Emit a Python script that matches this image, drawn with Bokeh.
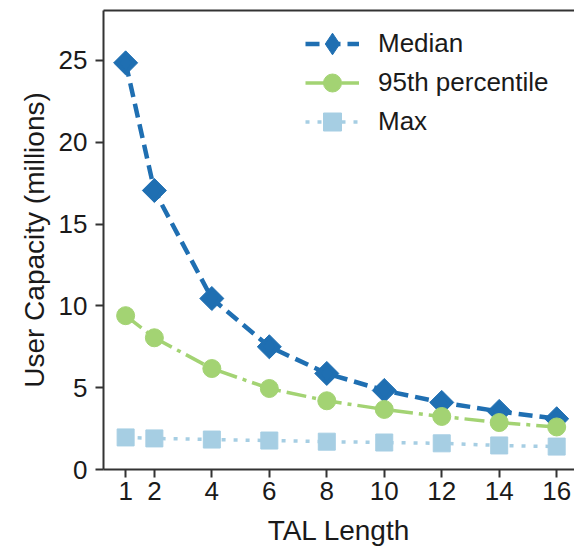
import math
from bokeh.plotting import figure
from bokeh.models import FixedTicker, LinearAxis, Legend, Range1d
from bokeh.embed import file_html
from bokeh.resources import INLINE

tal_length = [1, 2, 4, 6, 8, 10, 12, 14, 16]
median = [24.85, 17.05, 10.45, 7.5, 5.87, 4.83, 4.1, 3.55, 3.1]
pct95 = [9.4, 8.05, 6.17, 4.95, 4.2, 3.67, 3.24, 2.87, 2.6]
max_vals = [1.96, 1.9, 1.83, 1.77, 1.7, 1.65, 1.6, 1.47, 1.4]
x_ticks = [1, 2, 4, 6, 8, 10, 12, 14, 16]
y_ticks = [0, 5, 10, 15, 20, 25]
series_names = ["Median", "95th percentile", "Max"]

FONT = "Liberation Sans"
AX = "#333333"
TXT = "#1a1a1a"

p = figure(width=574, height=548, output_backend="svg", toolbar_location=None,
           x_range=Range1d(0.23, 16.62), y_range=Range1d(0, 28.05),
           min_border_left=103, min_border_right=0, min_border_top=10, min_border_bottom=79)
p.outline_line_color = None
p.xgrid.visible = False
p.ygrid.visible = False

c_med = "#1f6fb2"
c_95 = "#a3d373"
c_max = "#a6cee3"

r1 = p.line(tal_length, median, line_color=c_med, line_width=4.5, line_dash="14 7")
s1 = p.scatter(tal_length, median, marker="square", angle=math.pi / 4, size=17,
               fill_color=c_med, line_color=c_med)
# inner diamond (hidden inside the rotated squares) used for the legend symbol
d1 = p.scatter(tal_length, median, marker="diamond", size=17,
               fill_color=c_med, line_color=c_med)
r2 = p.line(tal_length, pct95, line_color=c_95, line_width=3.5, line_dash="20 6 4 6")
s2 = p.scatter(tal_length, pct95, marker="circle", size=18, fill_color=c_95, line_color=c_95)
r3 = p.line(tal_length, max_vals, line_color=c_max, line_width=3.5, line_dash="4 8")
s3 = p.scatter(tal_length, max_vals, marker="square", size=17, fill_color=c_max, line_color=c_max)

entries = [(series_names[0], [r1, d1], 398, 55), (series_names[1], [r2, s2], 364, 45),
           (series_names[2], [r3, s3], 325, 45)]
for name, rends, ypos, gh in entries:
    lg = Legend(items=[(name, rends)], location=(202, ypos))
    lg.border_line_color = None
    lg.background_fill_alpha = 0
    lg.label_text_font = FONT
    lg.label_text_font_size = "26px"
    lg.label_text_color = TXT
    lg.glyph_width = 54
    lg.glyph_height = gh
    lg.label_height = 26
    lg.spacing = 0
    lg.padding = 0
    lg.margin = 0
    lg.label_standoff = 19
    p.add_layout(lg, "center")

for ax in (p.xaxis[0], p.yaxis[0]):
    ax.axis_line_color = AX
    ax.axis_line_width = 2
    ax.major_tick_line_color = AX
    ax.major_tick_line_width = 2
    ax.major_tick_in = 0
    ax.major_tick_out = 8
    ax.minor_tick_line_color = None
    ax.major_label_text_font = FONT
    ax.major_label_text_font_size = "26px"
    ax.major_label_text_color = TXT
    ax.axis_label_text_font = FONT
    ax.axis_label_text_font_size = "28px"
    ax.axis_label_text_font_style = "normal"
    ax.axis_label_text_color = TXT

p.xaxis[0].ticker = FixedTicker(ticks=x_ticks)
p.yaxis[0].ticker = FixedTicker(ticks=y_ticks)
p.xaxis[0].axis_label = "TAL Length"
p.yaxis[0].axis_label = "User Capacity (millions)"
p.xaxis[0].major_label_standoff = 4
p.yaxis[0].major_label_standoff = 8
p.xaxis[0].axis_label_standoff = 12
p.yaxis[0].axis_label_standoff = 6

top = LinearAxis(ticker=FixedTicker(ticks=[]), axis_line_color=AX, axis_line_width=2,
                 major_label_text_font_size="0px", major_tick_line_color=None,
                 minor_tick_line_color=None)
p.add_layout(top, "above")
p.min_border_top = 10

open("out.html", "w").write(file_html(p, INLINE))
